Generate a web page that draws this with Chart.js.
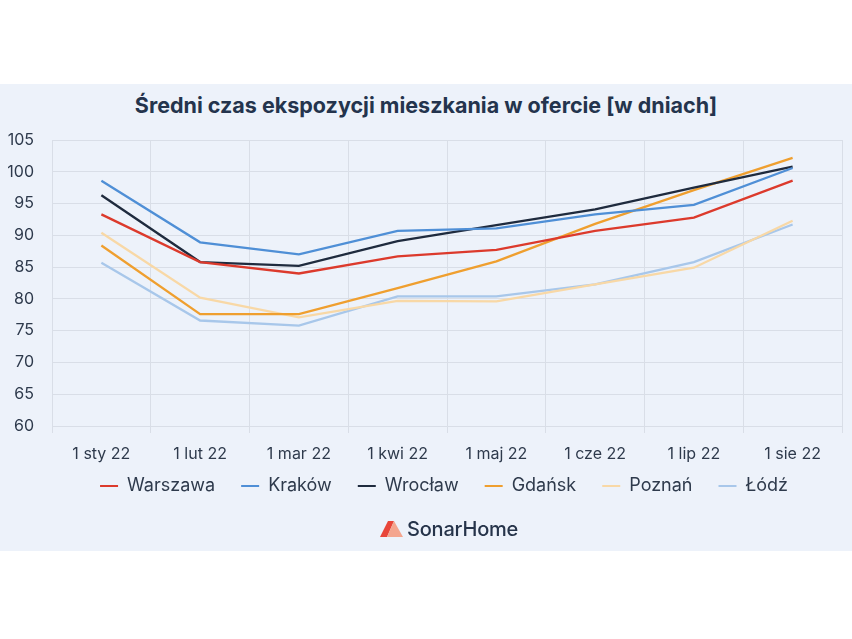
<!DOCTYPE html>
<html>
<head>
<meta charset="utf-8">
<script src="https://cdn.jsdelivr.net/npm/chart.js@4"></script>
<style>
  body { margin: 0; background: #fff; width: 852px; height: 639px; overflow: hidden; position: relative; font-family: Inter, "Open Sans", sans-serif; }
  #panel { position: absolute; left: 0; top: 84px; width: 852px; height: 467px; background: #edf2fa; }
  #title { position: absolute; left: 0; width: 852px; top: 92px; text-align: center; font-size: 21.5px; font-weight: 700; color: #24344d; }
  #chart { position: absolute; left: 0; top: 84px; }
  #logo { position: absolute; left: 380px; top: 517px; display: flex; align-items: center; font-size: 20px; color: #26344a; font-weight: 500; letter-spacing: -0.2px; }
  #logo svg { margin-right: 4px; }
</style>
</head>
<body>
<div id="panel"></div>
<div id="title">Średni czas ekspozycji mieszkania w ofercie [w dniach]</div>
<canvas id="chart" width="852" height="467"></canvas>
<div id="logo">
  <svg width="23" height="16" viewBox="0 0 23 16">
    <polygon points="0,16 8,0 14,0 7,16" fill="#e8463a"/>
    <polygon points="7,16 14,0 23,16" fill="#f4a58e"/>
  </svg>
  <span>SonarHome</span>
</div>
<script>
// dane
let months = ["1 sty 22", "1 lut 22", "1 mar 22", "1 kwi 22", "1 maj 22", "1 cze 22", "1 lip 22", "1 sie 22"];
let warszawa = [93.3, 85.8, 84.0, 86.7, 87.7, 90.7, 92.8, 98.6];
let krakow = [98.6, 88.9, 87.0, 90.7, 91.1, 93.3, 94.8, 100.6];
let wroclaw = [96.3, 85.8, 85.2, 89.1, 91.6, 94.1, 97.5, 100.8];
let gdansk = [88.4, 77.6, 77.6, 81.7, 85.9, 91.8, 97.1, 102.2];
let poznan = [90.4, 80.2, 77.1, 79.7, 79.6, 82.3, 84.9, 92.3];
let lodz = [85.7, 76.6, 75.8, 80.4, 80.4, 82.3, 85.8, 91.7];

let cities = ["Warszawa", "Kraków", "Wrocław", "Gdańsk", "Poznań", "Łódź"];
let colors = ["#dc3a2c", "#4f8fd6", "#1f2b3e", "#ef9f2f", "#f8d8a6", "#a8c7ea"];
let series = [warszawa, krakow, wroclaw, gdansk, poznan, lodz];

let gridColor = "#d9dee7";
let textColor = "#2e3a4c";

// przesuwa legendę (środek ok. 444px, tekst na 486px strony)
let legendShift = {
    id: 'legendShift',
    beforeDraw(chart) {
        let l = chart.legend;
        l.left = 46;
        l.top = 402 - 26 - 9;
    }
};

var ctx = document.getElementById('chart').getContext('2d');
var chart = new Chart(ctx, {
    type: 'line',
    data: {
        labels: months,
        datasets: series.map((s, i) => ({
            label: cities[i],
            data: s,
            borderColor: colors[i],
            backgroundColor: colors[i],
            borderWidth: 2.3,
            pointRadius: 0,
            tension: 0,
            fill: false
        }))
    },
    options: {
        responsive: false,
        animation: false,
        layout: { padding: { left: 0, right: 10, top: 56, bottom: 29 } },
        plugins: {
            title: { display: false },
            tooltip: { enabled: false },
            legend: {
                position: 'bottom',
                labels: {
                    color: textColor,
                    font: { family: 'Inter', size: 18 },
                    boxWidth: 18,
                    boxHeight: 2,
                    padding: 26,
                    generateLabels: (c) => c.data.datasets.map((d, i) => ({
                        text: d.label,
                        fillStyle: d.borderColor,
                        strokeStyle: d.borderColor,
                        lineWidth: 0,
                        fontColor: textColor,
                        datasetIndex: i
                    }))
                }
            }
        },
        scales: {
            x: {
                offset: true,
                grid: { offset: true, color: gridColor, tickLength: 7 },
                border: { color: gridColor },
                ticks: { color: textColor, font: { family: 'Inter', size: 16 }, padding: 12 },
                afterFit: (scale) => { scale.height = 42; }
            },
            y: {
                min: 60,
                max: 105,
                ticks: { stepSize: 5, color: textColor, font: { family: 'Inter', size: 16 }, padding: 18 },
                grid: { color: gridColor, drawTicks: false },
                border: { color: gridColor },
                afterFit: (scale) => { scale.width = 52; }
            }
        }
    },
    plugins: [legendShift]
});
</script>
</body>
</html>
